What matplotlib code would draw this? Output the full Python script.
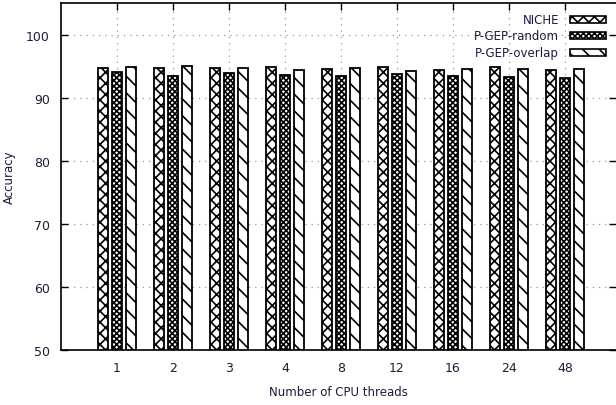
import numpy as np
import matplotlib
matplotlib.use("Agg")
import matplotlib.pyplot as plt
from matplotlib.patches import Rectangle

threads = ["1", "2", "3", "4", "8", "12", "16", "24", "48"]
niche = [94.7, 94.7, 94.7, 94.85, 94.6, 94.8, 94.45, 94.8, 94.45]
gep_random = [94.0, 93.5, 93.85, 93.65, 93.5, 93.7, 93.5, 93.3, 93.1]
gep_overlap = [94.8, 95.0, 94.7, 94.45, 94.65, 94.3, 94.6, 94.6, 94.6]

plt.rcParams['font.family'] = ['DejaVu Sans']
plt.rcParams['hatch.linewidth'] = 1.2
txtcol = '#1c1c3a'
fs = 8.5

W, H = 616, 406
fig = plt.figure(figsize=(W / 100, H / 100), dpi=100)
ax = fig.add_axes([61/W, 55/H, 555/W, 347/H])

x = np.arange(1, len(threads) + 1)
w = 0.18
step = 0.25
series = [(niche, 'NICHE', 'xxx'), (gep_random, 'P-GEP-random', 'xxxxxx'),
          (gep_overlap, 'P-GEP-overlap', '\\\\')]
for i, (vals, name, hatch) in enumerate(series):
    ax.bar(x + (i - 1) * step, np.array(vals) - 50, bottom=50, width=w,
           facecolor='white', edgecolor='black', hatch=hatch, linewidth=1.3,
           label=name, zorder=3)

ax.set_xlim(0, 9.91)
ax.set_ylim(50, 105)
ax.set_xticks(x)
ax.set_xticklabels(threads)
ax.set_yticks([50, 60, 70, 80, 90, 100])
ax.tick_params(direction='in', top=True, right=True, length=5, width=1,
               labelsize=fs + 0.5, labelcolor=txtcol, pad=8)
ax.grid(True, color='#999999', linestyle=(0, (1, 4)), linewidth=0.9, zorder=0)
ax.spines['right'].set_visible(False)
for s in ['left', 'top', 'bottom']:
    ax.spines[s].set_linewidth(1.2)

ax.set_xlabel('Number of CPU threads', fontsize=fs, color=txtcol, labelpad=8)
ax.set_ylabel('Accuracy', fontsize=fs, color=txtcol, labelpad=7)

# gnuplot-style key: right-aligned text, sample box to its right
for i, (vals, name, hatch) in enumerate(series):
    yc = 20 + i * 16.5
    fig.text(559 / W, 1 - yc / H, name, ha='right', va='center',
             fontsize=fs, color=txtcol)
    fig.add_artist(Rectangle((570 / W, 1 - (yc + 3.5) / H), 36 / W, 7 / H,
                             transform=fig.transFigure, facecolor='white',
                             edgecolor='black', hatch=hatch, linewidth=1.2))

fig.savefig('out.png', dpi=100)
